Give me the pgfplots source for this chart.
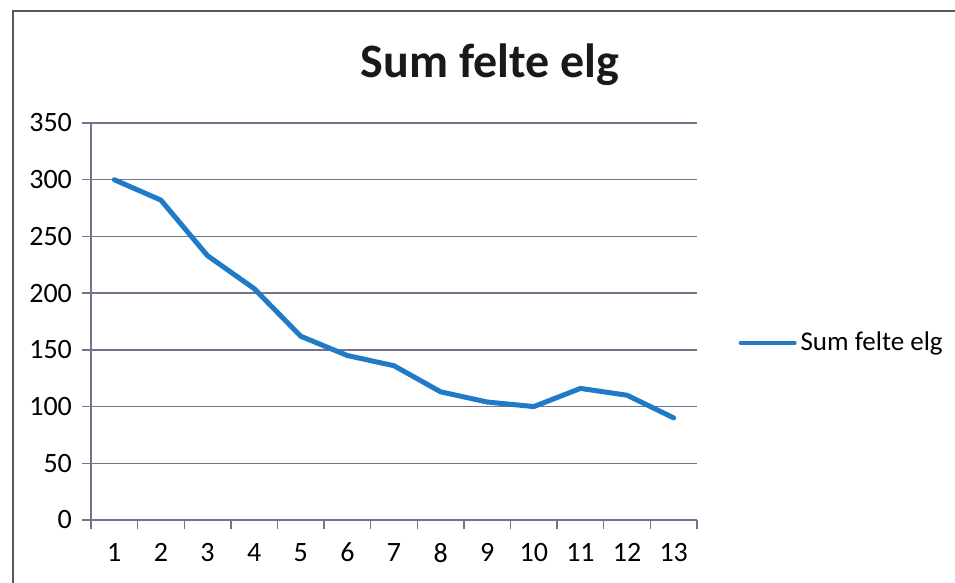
\documentclass[border=0pt]{standalone}
\usepackage{pgfplots}
\pgfplotsset{compat=1.18}
\usepackage{fontspec}
\setmainfont{Carlito}
\definecolor{serie}{RGB}{31,122,200}
\definecolor{gridc}{RGB}{115,115,140}
\begin{document}
\begin{tikzpicture}
\useasboundingbox (0pt,0pt) rectangle (477.5pt,-291.5pt);
\draw[line width=0.9pt, color=black!65] (6.3pt,-295pt) -- (6.3pt,-5.5pt) -- (480pt,-5.5pt);
\node[anchor=base, font=\fontsize{24}{28}\selectfont\bfseries, text=black!90] at (245pt,-39pt) {Sum felte elg};
\begin{axis}[
  at={(45.5pt,-260pt)}, anchor=south west,
  scale only axis, width=303pt, height=198.5pt,
  xmin=0.5, xmax=13.5, ymin=0, ymax=350,
  ytick={0,50,...,350},
  xtick={1,...,13},
  minor xtick={0.5,1.5,...,13.5},
  axis x line*=bottom, axis y line*=left,
  axis line style={-, draw=gridc, line width=0.7pt},
  tick align=outside,
  major tick length=4.5pt, minor tick length=4.5pt,
  major x tick style={draw=none},
  every tick/.style={draw=gridc, line width=0.7pt},
  ymajorgrids,
  major grid style={draw=gridc, line width=0.7pt},
  tick label style={font=\fontsize{14}{16}\selectfont, text=black},
  yticklabel style={xshift=-1.5pt},
  xticklabel style={yshift=-3.5pt},
  /pgf/number format/assume math mode=true,
  legend style={at={(1.068,0.446)}, anchor=west, draw=none, fill=none,
    font=\fontsize{13.5}{15}\selectfont, inner sep=0pt},
  legend image code/.code={\draw[#1, line width=2pt] (0pt,0pt) -- (27pt,0pt);},
]
\addplot[serie, line width=2.5pt, line join=round, line cap=round, mark=none] coordinates {
  (1,300) (2,282) (3,233) (4,204) (5,162) (6,145) (7,136)
  (8,113) (9,104) (10,100) (11,116) (12,110) (13,90)
};
\addlegendentry{Sum felte elg}
\end{axis}
\end{tikzpicture}
\end{document}
